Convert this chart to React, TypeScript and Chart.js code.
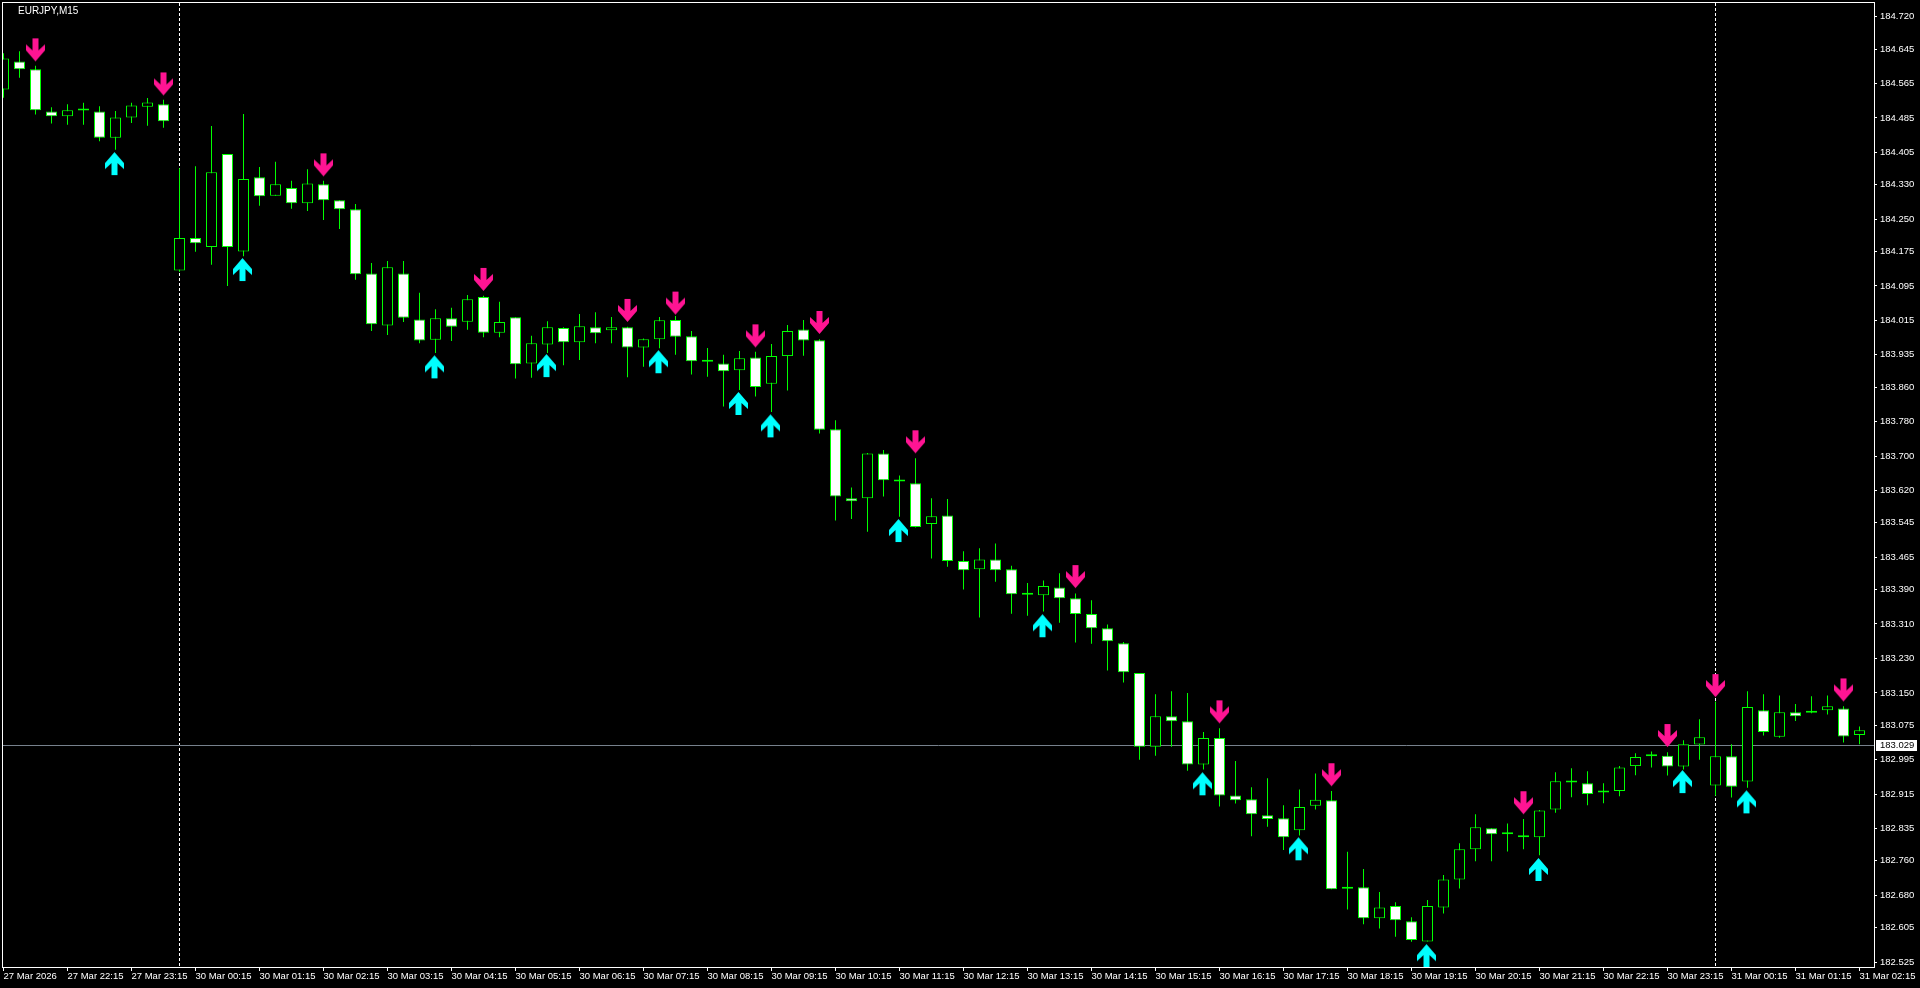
import React, { useEffect, useRef } from "react";
import { Chart, registerables } from "chart.js";

Chart.register(...registerables);

const symbolTitle = "EURJPY,M15";

const tickLabels = [
  "27 Mar 2026", "27 Mar 22:15", "27 Mar 23:15",
  "30 Mar 00:15", "30 Mar 01:15", "30 Mar 02:15", "30 Mar 03:15", "30 Mar 04:15", "30 Mar 05:15",
  "30 Mar 06:15", "30 Mar 07:15", "30 Mar 08:15", "30 Mar 09:15", "30 Mar 10:15", "30 Mar 11:15",
  "30 Mar 12:15", "30 Mar 13:15", "30 Mar 14:15", "30 Mar 15:15", "30 Mar 16:15", "30 Mar 17:15",
  "30 Mar 18:15", "30 Mar 19:15", "30 Mar 20:15", "30 Mar 21:15", "30 Mar 22:15", "30 Mar 23:15",
  "31 Mar 00:15", "31 Mar 01:15", "31 Mar 02:15",
];

const priceTicks = [
  184.720, 184.645, 184.565, 184.485, 184.405, 184.330, 184.250, 184.175, 184.095, 184.015,
  183.935, 183.860, 183.780, 183.700, 183.620, 183.545, 183.465, 183.390, 183.310, 183.230,
  183.150, 183.075, 182.995, 182.915, 182.835, 182.760, 182.680, 182.605, 182.525,
];

const opens = [
  184.551, 184.616, 184.598, 184.500, 184.489, 184.502, 184.500, 184.439, 184.486, 184.511,
  184.517, 184.131, 184.206, 184.185, 184.401, 184.175, 184.347, 184.304, 184.322, 184.287,
  184.331, 184.294, 184.273, 184.124, 184.003, 184.124, 184.017, 183.970, 184.020, 184.012,
  184.069, 183.986, 184.022, 183.915, 183.959, 183.997, 183.964, 183.999, 183.992, 183.999,
  183.952, 183.971, 184.016, 183.978, 183.919, 183.915, 183.899, 183.929, 183.868, 183.932,
  183.994, 183.969, 183.762, 183.602, 183.602, 183.706, 183.643, 183.637, 183.542, 183.562,
  183.456, 183.437, 183.460, 183.437, 183.378, 183.377, 183.395, 183.370, 183.333, 183.300,
  183.265, 183.196, 183.025, 183.096, 183.084, 182.984, 183.045, 182.912, 182.903, 182.866,
  182.859, 182.831, 182.888, 182.901, 182.695, 182.699, 182.627, 182.655, 182.620, 182.573,
  182.652, 182.717, 182.787, 182.836, 182.822, 182.819, 182.815, 182.879, 182.942, 182.940,
  182.919, 182.922, 182.980, 183.003, 183.004, 182.979, 183.030, 182.935, 183.003, 182.944,
  183.110, 183.048, 183.105, 183.104, 183.110, 183.114, 183.052,
];

const highs = [
  184.635, 184.640, 184.606, 184.510, 184.517, 184.520, 184.512, 184.501, 184.520, 184.531,
  184.527, 184.368, 184.373, 184.466, 184.401, 184.494, 184.371, 184.383, 184.339, 184.366,
  184.339, 184.294, 184.285, 184.148, 184.153, 184.153, 184.079, 184.041, 184.044, 184.074,
  184.072, 184.058, 184.022, 183.979, 184.013, 183.999, 184.030, 184.034, 184.023, 184.000,
  183.973, 184.023, 184.025, 183.990, 183.951, 183.935, 183.944, 183.942, 183.960, 184.004,
  184.016, 183.971, 183.783, 183.627, 183.707, 183.714, 183.655, 183.695, 183.602, 183.600,
  183.479, 183.486, 183.497, 183.445, 183.405, 183.411, 183.428, 183.381, 183.365, 183.309,
  183.268, 183.196, 183.147, 183.154, 183.150, 183.059, 183.068, 182.992, 182.931, 182.952,
  182.889, 182.926, 182.963, 182.922, 182.781, 182.741, 182.688, 182.664, 182.629, 182.669,
  182.727, 182.801, 182.868, 182.836, 182.847, 182.857, 182.878, 182.966, 182.975, 182.968,
  182.940, 182.980, 183.010, 183.014, 183.012, 183.040, 183.089, 183.130, 183.031, 183.154,
  183.147, 183.144, 183.124, 183.142, 183.144, 183.119, 183.072,
];

const lows = [
  184.532, 184.578, 184.493, 184.472, 184.469, 184.469, 184.431, 184.411, 184.473, 184.467,
  184.462, 184.128, 184.174, 184.144, 184.095, 184.164, 184.281, 184.304, 184.274, 184.269,
  184.248, 184.227, 184.109, 183.990, 183.981, 184.011, 183.962, 183.939, 183.967, 183.993,
  183.976, 183.976, 183.880, 183.882, 183.939, 183.911, 183.923, 183.962, 183.962, 183.883,
  183.907, 183.950, 183.935, 183.889, 183.884, 183.815, 183.853, 183.838, 183.802, 183.852,
  183.933, 183.752, 183.550, 183.554, 183.524, 183.606, 183.559, 183.534, 183.462, 183.443,
  183.390, 183.325, 183.408, 183.334, 183.329, 183.339, 183.313, 183.267, 183.264, 183.202,
  183.174, 182.995, 183.004, 183.025, 182.969, 182.972, 182.886, 182.893, 182.817, 182.839,
  182.785, 182.819, 182.879, 182.694, 182.647, 182.613, 182.603, 182.584, 182.572, 182.573,
  182.638, 182.696, 182.759, 182.759, 182.782, 182.787, 182.773, 182.872, 182.908, 182.889,
  182.894, 182.910, 182.959, 182.977, 182.958, 182.972, 182.995, 182.911, 182.907, 182.930,
  183.051, 183.046, 183.085, 183.103, 183.100, 183.035, 183.031,
];

const closes = [
  184.623, 184.598, 184.503, 184.489, 184.503, 184.502, 184.439, 184.486, 184.514, 184.521,
  184.477, 184.206, 184.194, 184.359, 184.185, 184.343, 184.303, 184.331, 184.287, 184.333,
  184.294, 184.273, 184.122, 184.006, 184.138, 184.021, 183.968, 184.020, 184.000, 184.064,
  183.986, 184.011, 183.913, 183.962, 183.999, 183.964, 184.001, 183.985, 183.999, 183.952,
  183.971, 184.015, 183.977, 183.920, 183.919, 183.897, 183.927, 183.860, 183.932, 183.990,
  183.968, 183.761, 183.606, 183.595, 183.706, 183.644, 183.641, 183.535, 183.560, 183.456,
  183.435, 183.460, 183.435, 183.379, 183.378, 183.398, 183.370, 183.333, 183.300, 183.270,
  183.198, 183.025, 183.096, 183.084, 182.984, 183.045, 182.912, 182.901, 182.868, 182.857,
  182.815, 182.885, 182.902, 182.694, 182.695, 182.627, 182.652, 182.622, 182.576, 182.655,
  182.717, 182.787, 182.838, 182.822, 182.822, 182.815, 182.877, 182.945, 182.942, 182.915,
  182.919, 182.977, 183.001, 183.003, 182.979, 183.031, 183.047, 183.003, 182.932, 183.117,
  183.059, 183.105, 183.096, 183.104, 183.119, 183.049, 183.063,
];

const sellArrowIdx = [2, 10, 20, 30, 39, 42, 47, 51, 57, 67, 76, 83, 95, 104, 107, 115];
const sellArrowPrice = [
  184.643, 184.564, 184.376, 184.110, 184.038, 184.055, 183.979, 184.010,
  183.733, 183.420, 183.106, 182.960, 182.895, 183.051, 183.167, 183.157,
];

const buyArrowIdx = [7, 15, 27, 34, 41, 46, 48, 56, 65, 75, 81, 89, 96, 105, 109];
const buyArrowPrice = [
  184.379, 184.133, 183.907, 183.910, 183.919, 183.822, 183.770, 183.527,
  183.306, 182.939, 182.788, 182.540, 182.740, 182.944, 182.897,
];

const bidPrice = 183.029;
const separatorIdx = [11, 107];

const FONT = "'Liberation Sans', Arial, sans-serif";
const LIME = "#00ff00";
const PINK = "#ff1493";
const AQUA = "#00ffff";

function makeArrow(color: string, down: boolean): HTMLCanvasElement {
  const c = document.createElement("canvas");
  c.width = 21;
  c.height = 25;
  const ctx = c.getContext("2d")!;
  const pts = [
    [7.5, 1], [13.5, 1], [13.5, 13], [20, 7], [20, 13], [10.5, 24], [1, 13], [1, 7], [7.5, 13],
  ];
  ctx.fillStyle = color;
  ctx.beginPath();
  pts.forEach(([x, y], k) => {
    const xx = down ? x : x - 1;
    const yy = down ? y : 25 - y;
    if (k === 0) ctx.moveTo(xx, yy);
    else ctx.lineTo(xx, yy);
  });
  ctx.closePath();
  ctx.fill();
  return c;
}

const mtPlugin = {
  id: "mtDecor",
  beforeDraw(chart: any) {
    const { ctx, width, height } = chart;
    ctx.save();
    ctx.fillStyle = "#000";
    ctx.fillRect(0, 0, width, height);
    ctx.restore();
  },
  beforeDatasetsDraw(chart: any) {
    const { ctx, chartArea: a, scales } = chart;
    ctx.save();
    ctx.beginPath();
    ctx.rect(a.left, a.top, a.right - a.left, a.bottom - a.top);
    ctx.clip();
    ctx.strokeStyle = "#ffffff";
    ctx.lineWidth = 1;
    ctx.setLineDash([3, 2]);
    separatorIdx.forEach((i) => {
      const x = Math.round(scales.x.getPixelForValue(i) - 0.5) + 0.5;
      ctx.beginPath();
      ctx.moveTo(x, a.top);
      ctx.lineTo(x, a.bottom);
      ctx.stroke();
    });
    ctx.setLineDash([]);
    const yb = Math.round(scales.y.getPixelForValue(bidPrice)) + 0.5;
    ctx.strokeStyle = "#77818c";
    ctx.beginPath();
    ctx.moveTo(a.left, yb);
    ctx.lineTo(a.right, yb);
    ctx.stroke();
    ctx.restore();
  },
  afterDraw(chart: any) {
    const { ctx, chartArea: a, scales } = chart;
    ctx.save();
    ctx.strokeStyle = "#ffffff";
    ctx.lineWidth = 1;
    ctx.strokeRect(a.left - 0.5, a.top - 0.5, a.right - a.left + 1, a.bottom - a.top + 1);
    ctx.fillStyle = "#ffffff";
    ctx.font = `10px ${FONT}`;
    ctx.textBaseline = "alphabetic";
    ctx.textAlign = "left";
    ctx.fillText(symbolTitle, 18, 14);
    const yb = Math.round(scales.y.getPixelForValue(bidPrice));
    ctx.fillStyle = "#ffffff";
    ctx.fillRect(a.right + 2, yb - 5, 41, 11);
    ctx.fillStyle = "#000000";
    ctx.font = `9.5px ${FONT}`;
    ctx.textBaseline = "middle";
    ctx.fillText(bidPrice.toFixed(3), a.right + 6, yb + 0.5);
    ctx.restore();
  },
};

export default function App() {
  const ref = useRef<HTMLCanvasElement | null>(null);

  useEffect(() => {
    document.body.style.margin = "0";
    document.body.style.background = "#000";
    const canvas = ref.current;
    if (!canvas) return;

    const downImg = makeArrow(PINK, true);
    const upImg = makeArrow(AQUA, false);

    const slotPx = 16;
    const plotLeft = 3;
    const plotRight = 1874;
    const xMin = -0.5 / slotPx;
    const xMax = xMin + (plotRight - plotLeft) / slotPx;

    const yTopPx = 3;
    const yBottomPx = 967;
    const pxPerUnit = 430.7;
    const refPrice = 184.72;
    const refPx = 16.7;
    const yMax = refPrice + (refPx - yTopPx) / pxPerUnit;
    const yMin = refPrice - (yBottomPx - refPx) / pxPerUnit;

    const tickFont = { family: FONT, size: 9.5 };

    const chart = new Chart(canvas, {
      type: "bar",
      data: {
        datasets: [
          {
            type: "line",
            data: sellArrowIdx.map((x, k) => ({ x, y: sellArrowPrice[k] })),
            showLine: false,
            pointStyle: downImg as any,
            pointRadius: 1,
            pointHoverRadius: 1,
            order: 0,
            clip: 0,
          } as any,
          {
            type: "line",
            data: buyArrowIdx.map((x, k) => ({ x, y: buyArrowPrice[k] })),
            showLine: false,
            pointStyle: upImg as any,
            pointRadius: 1,
            pointHoverRadius: 1,
            order: 0,
            clip: 0,
          } as any,
          {
            type: "bar",
            data: opens.map((o, i) => ({ x: i, y: [o, closes[i]] })),
            backgroundColor: opens.map((o, i) => (closes[i] > o ? "#000000" : "#ffffff")),
            borderColor: LIME,
            borderWidth: 1,
            borderSkipped: false,
            barThickness: 11,
            minBarLength: 2,
            grouped: false,
            inflateAmount: 0,
            order: 1,
            clip: 0,
          } as any,
          {
            type: "bar",
            data: opens.map((_, i) => ({ x: i, y: [lows[i], highs[i]] })),
            backgroundColor: LIME,
            borderWidth: 0,
            barThickness: 1,
            grouped: false,
            inflateAmount: 0,
            order: 2,
            clip: 0,
          } as any,
        ],
      },
      options: {
        animation: false,
        responsive: false,
        devicePixelRatio: 1,
        events: [],
        layout: {
          autoPadding: false,
          padding: { left: plotLeft, top: yTopPx, right: 0, bottom: 0 },
        },
        plugins: {
          legend: { display: false },
          tooltip: { enabled: false },
          title: { display: false },
        },
        scales: {
          x: {
            type: "linear",
            min: xMin,
            max: xMax,
            offset: false,
            grid: {
              display: true,
              drawOnChartArea: false,
              drawTicks: true,
              tickLength: 4,
              color: "#ffffff",
              offset: false,
            },
            border: { display: false },
            ticks: {
              autoSkip: false,
              maxRotation: 0,
              minRotation: 0,
              align: "start",
              padding: 0,
              color: "#ffffff",
              font: tickFont,
              callback: (v: any) => tickLabels[Math.round(Number(v) / 4)] ?? "",
            },
            afterBuildTicks: (s: any) => {
              s.ticks = tickLabels.map((_, k) => ({ value: k * 4 }));
            },
            afterFit: (s: any) => {
              s.height = 988 - yBottomPx;
              s.paddingLeft = 0;
              s.paddingRight = 0;
            },
          } as any,
          y: {
            type: "linear",
            position: "right",
            min: yMin,
            max: yMax,
            grid: {
              display: true,
              drawOnChartArea: false,
              drawTicks: true,
              tickLength: 3,
              color: "#ffffff",
            },
            border: { display: false },
            ticks: {
              autoSkip: false,
              padding: 3,
              color: "#ffffff",
              font: tickFont,
              callback: (v: any) => Number(v).toFixed(3),
            },
            afterBuildTicks: (s: any) => {
              s.ticks = priceTicks.map((v) => ({ value: v }));
            },
            afterFit: (s: any) => {
              s.width = 1920 - plotRight;
              s.paddingTop = 0;
              s.paddingBottom = 0;
            },
          } as any,
        },
      },
      plugins: [mtPlugin],
    });

    return () => chart.destroy();
  }, []);

  return (
    <canvas
      ref={ref}
      width={1920}
      height={988}
      style={{ display: "block", width: 1920, height: 988 }}
    />
  );
}
